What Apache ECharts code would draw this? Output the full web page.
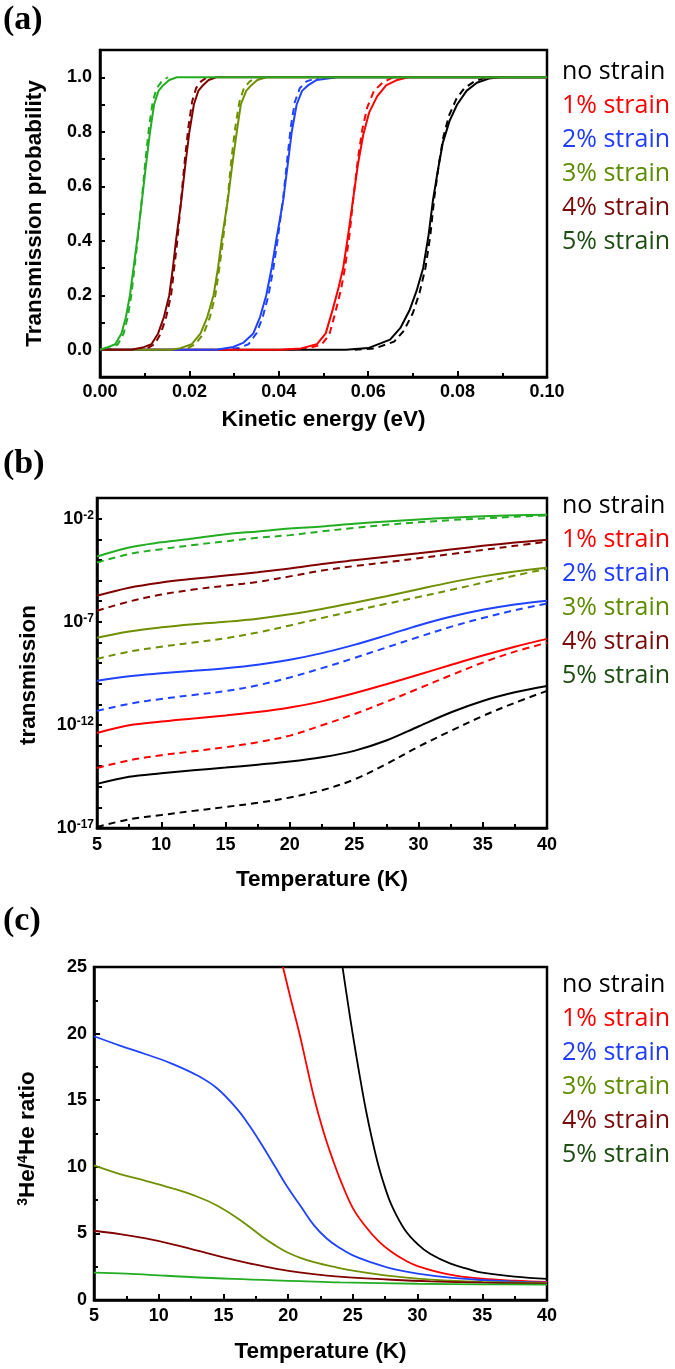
<!DOCTYPE html>
<html lang="en">
<head>
  <meta charset="UTF-8">
  <title>Transmission and 3He/4He ratio under strain</title>
  <script src="https://cdn.jsdelivr.net/npm/echarts@6.0.0/dist/echarts.min.js"></script>
  <style>
    html, body { margin: 0; padding: 0; background: #fff; }
    #main { width: 675px; height: 1369px; }
  </style>
</head>
<body>
  <div id="main"></div>

  <script>
    // legend labels and colours (same for all three panels)
    const strainNames = ['no strain', '1% strain', '2% strain', '3% strain', '4% strain', '5% strain'];
    const legendColors = ['#000000', '#ff0000', '#1f3cff', '#5e8c00', '#7a0a0a', '#1d4d12'];
    const lineColors = ['#000000', '#ff0000', '#2043ff', '#6f9000', '#800000', '#22ad22'];

    // (a) transmission probability vs kinetic energy (eV), [energy, T]
    const aNoSolid = [[0,0],[0.055,0],[0.06,0.006],[0.0649,0.037],[0.0672,0.08],[0.0693,0.147],[0.0709,0.22],[0.0723,0.3],[0.0735,0.42],[0.0745,0.55],[0.0756,0.66],[0.0767,0.76],[0.0782,0.84],[0.0799,0.9],[0.082,0.95],[0.0843,0.98],[0.087,0.995],[0.0895,1],[0.1,1]];
    const aNoDash = [[0.057,0],[0.0615,0.005],[0.0658,0.03],[0.068,0.07],[0.07,0.135],[0.0715,0.21],[0.0728,0.3],[0.0739,0.42],[0.0748,0.56],[0.0758,0.68],[0.0768,0.78],[0.0781,0.86],[0.0797,0.92],[0.0815,0.96],[0.0838,0.985],[0.0865,1]];
    const a1Solid = [[0,0],[0.04,0],[0.045,0.005],[0.0485,0.02],[0.0505,0.06],[0.0521,0.15],[0.0534,0.23],[0.0544,0.3],[0.0555,0.42],[0.0566,0.55],[0.0577,0.68],[0.0589,0.79],[0.0602,0.87],[0.062,0.93],[0.064,0.97],[0.0665,0.99],[0.069,1],[0.1,1]];
    const a1Dash = [[0.042,0],[0.0465,0.005],[0.0495,0.018],[0.0513,0.055],[0.0527,0.14],[0.0539,0.22],[0.0548,0.3],[0.0558,0.42],[0.0567,0.56],[0.0577,0.7],[0.0587,0.81],[0.0598,0.89],[0.0613,0.95],[0.0632,0.98],[0.0655,1]];
    const a2Solid = [[0,0],[0.026,0],[0.0298,0.01],[0.032,0.025],[0.0343,0.06],[0.0358,0.12],[0.0372,0.2],[0.0384,0.3],[0.0394,0.4],[0.041,0.55],[0.042,0.68],[0.0429,0.8],[0.044,0.9],[0.0452,0.95],[0.0465,0.97],[0.0485,0.99],[0.053,1],[0.1,1]];
    const a2Dash = [[0.027,0],[0.031,0.006],[0.0332,0.02],[0.035,0.06],[0.0364,0.12],[0.0377,0.2],[0.0388,0.3],[0.0397,0.4],[0.041,0.56],[0.0419,0.7],[0.0427,0.82],[0.0436,0.91],[0.0447,0.96],[0.0462,0.985],[0.049,1]];
    const a3Solid = [[0,0],[0.016,0],[0.018,0.006],[0.0205,0.02],[0.0225,0.06],[0.024,0.12],[0.0254,0.2],[0.0264,0.3],[0.0272,0.4],[0.0286,0.55],[0.0296,0.68],[0.0306,0.8],[0.0315,0.9],[0.0327,0.95],[0.0338,0.97],[0.0352,0.99],[0.0372,1],[0.1,1]];
    const a3Dash = [[0.017,0],[0.0195,0.005],[0.0213,0.02],[0.0232,0.06],[0.0246,0.12],[0.0258,0.2],[0.0267,0.3],[0.0275,0.4],[0.0286,0.56],[0.0294,0.7],[0.0303,0.82],[0.0312,0.91],[0.0322,0.96],[0.0335,0.985],[0.0352,1]];
    const a4Solid = [[0,0],[0.007,0],[0.0095,0.008],[0.0115,0.02],[0.013,0.06],[0.0143,0.12],[0.0155,0.2],[0.0163,0.3],[0.017,0.4],[0.0182,0.55],[0.0191,0.68],[0.02,0.8],[0.021,0.9],[0.022,0.95],[0.023,0.97],[0.0243,0.99],[0.026,1],[0.1,1]];
    const a4Dash = [[0.008,0],[0.0105,0.005],[0.0122,0.02],[0.0136,0.06],[0.0148,0.12],[0.0159,0.2],[0.0166,0.3],[0.0173,0.4],[0.0182,0.56],[0.019,0.7],[0.0198,0.82],[0.0206,0.91],[0.0215,0.96],[0.0226,0.985],[0.024,1]];
    const a5Solid = [[0,0],[0.0015,0.008],[0.0034,0.02],[0.0048,0.06],[0.0058,0.12],[0.0067,0.2],[0.0075,0.3],[0.0083,0.4],[0.0094,0.55],[0.0103,0.68],[0.0112,0.8],[0.0121,0.9],[0.0131,0.95],[0.0141,0.97],[0.0155,0.99],[0.0172,1],[0.1,1]];
    const a5Dash = [[0.001,0],[0.0025,0.005],[0.004,0.02],[0.0053,0.06],[0.0062,0.12],[0.007,0.2],[0.0077,0.3],[0.0084,0.4],[0.0094,0.56],[0.0102,0.7],[0.011,0.82],[0.0118,0.91],[0.0127,0.96],[0.0138,0.985],[0.0152,1]];

    // (b) log10(transmission) vs temperature (K)
    const tempB = [5, 7.5, 10, 12.5, 15, 17.5, 20, 22.5, 25, 27.5, 30, 32.5, 35, 37.5, 40];
    const bNoSolid = [-14.86,-14.52,-14.35,-14.20,-14.07,-13.93,-13.78,-13.57,-13.26,-12.76,-12.08,-11.40,-10.84,-10.42,-10.11];
    const bNoDash  = [-16.95,-16.58,-16.37,-16.17,-15.98,-15.78,-15.52,-15.17,-14.65,-13.90,-13.06,-12.30,-11.57,-10.93,-10.35];
    const b1Solid  = [-12.39,-12.02,-11.84,-11.69,-11.54,-11.38,-11.16,-10.86,-10.47,-10.03,-9.57,-9.10,-8.64,-8.21,-7.83];
    const b1Dash   = [-14.09,-13.72,-13.47,-13.28,-13.08,-12.84,-12.52,-12.02,-11.48,-10.88,-10.24,-9.60,-8.98,-8.45,-8.02];
    const b2Solid  = [-9.86,-9.64,-9.50,-9.38,-9.25,-9.08,-8.84,-8.52,-8.12,-7.66,-7.18,-6.76,-6.42,-6.16,-5.98];
    const b2Dash   = [-11.32,-10.98,-10.74,-10.55,-10.36,-10.08,-9.70,-9.25,-8.76,-8.25,-7.74,-7.25,-6.82,-6.44,-6.12];
    const b3Solid  = [-7.78,-7.47,-7.27,-7.12,-7.00,-6.85,-6.64,-6.38,-6.08,-5.76,-5.42,-5.09,-4.80,-4.56,-4.38];
    const b3Dash   = [-8.80,-8.45,-8.21,-8.01,-7.80,-7.52,-7.18,-6.82,-6.47,-6.13,-5.80,-5.46,-5.11,-4.76,-4.43];
    const b4Solid  = [-5.74,-5.35,-5.10,-4.92,-4.76,-4.60,-4.42,-4.20,-4.02,-3.85,-3.68,-3.50,-3.32,-3.16,-3.02];
    const b4Dash   = [-6.47,-6.02,-5.68,-5.44,-5.25,-5.07,-4.80,-4.52,-4.30,-4.12,-3.92,-3.72,-3.52,-3.32,-3.12];
    const b5Solid  = [-3.84,-3.40,-3.15,-2.96,-2.76,-2.62,-2.48,-2.38,-2.25,-2.14,-2.04,-1.96,-1.89,-1.84,-1.81];
    const b5Dash   = [-4.13,-3.72,-3.48,-3.28,-3.10,-2.93,-2.80,-2.62,-2.45,-2.30,-2.18,-2.07,-1.99,-1.91,-1.85];
    const bLogTicks = [-17, -12, -7, -2];

    // (c) 3He/4He ratio vs temperature (K), [T, ratio]
    const cNo = [[24.2,25],[24.6,22.4],[25,19.9],[25.5,17.0],[26,14.3],[26.5,12.0],[27,10.0],[27.5,8.4],[28,7.1],[29,5.3],[30,4.2],[31,3.45],[32.5,2.75],[34,2.3],[35,2.05],[37.5,1.75],[40,1.58]];
    const c1 = [[19.6,25],[20.2,22.6],[20.9,19.9],[21.5,17.3],[22,15.2],[22.5,13.4],[23,11.8],[23.5,10.4],[24,9.1],[25,6.9],[26,5.5],[27,4.4],[28,3.6],[29,3.0],[30,2.55],[32.5,1.9],[35,1.6],[37.5,1.45],[40,1.35]];
    const c2 = [[5,19.8],[7,19.1],[9,18.45],[11,17.75],[13,16.85],[14.5,15.9],[16,14.4],[17,13.1],[18,11.6],[19,10.0],[20,8.4],[21,7.0],[22,5.6],[23,4.6],[24,3.9],[25,3.35],[26.5,2.8],[28,2.35],[30,1.98],[32.5,1.68],[35,1.5],[37.5,1.38],[40,1.3]];
    const c3 = [[5,10.1],[7,9.45],[9,8.95],[11,8.4],[13,7.75],[14.5,7.1],[16,6.2],[17,5.5],[18,4.75],[19,4.1],[20,3.55],[21,3.15],[22,2.85],[23.5,2.5],[25,2.2],[27.5,1.85],[30,1.6],[32.5,1.45],[35,1.36],[40,1.28]];
    const c4 = [[5,5.2],[7,4.95],[9,4.62],[11,4.2],[13,3.7],[15,3.2],[17,2.75],[19,2.35],[21,2.05],[23,1.83],[25,1.68],[28,1.52],[31,1.4],[35,1.3],[40,1.22]];
    const c5 = [[5,2.05],[7.5,1.98],[10.6,1.82],[15.75,1.58],[20.9,1.42],[24,1.32],[30,1.22],[35,1.18],[40,1.15]];

    const FONT = 'Liberation Sans, Arial, sans-serif';

    let chart = echarts.init(document.getElementById('main'), null, { renderer: 'canvas' });

    function lineSeries(idx, data, axis, dashed, width, smooth) {
      return {
        name: strainNames[idx],
        type: 'line',
        xAxisIndex: axis,
        yAxisIndex: axis,
        data: data,
        symbol: 'none',
        smooth: smooth,
        silent: true,
        lineStyle: { color: lineColors[idx], width: width, type: dashed ? [7, 5] : 'solid' },
        itemStyle: { color: lineColors[idx] }
      };
    }

    function pairs(xs, ys) {
      return xs.map((x, i) => [x, ys[i]]);
    }

    function legendAt(top) {
      return {
        orient: 'vertical', left: 557, top: top, padding: 0, itemGap: 0,
        itemWidth: 0, itemHeight: 0, icon: 'rect', selectedMode: false,
        textStyle: { fontFamily: 'Open Sans', fontSize: 25, lineHeight: 34 },
        data: strainNames.map((n, i) => ({ name: n, textStyle: { color: legendColors[i] } }))
      };
    }

    const tickStyle = { color: '#000', width: 2 };
    const labelBase = { color: '#000', fontFamily: FONT, fontWeight: 'bold', fontSize: 18 };
    const nameBase = { color: '#000', fontFamily: FONT, fontWeight: 'bold', fontSize: 22.5 };
    const panelTitle = { fontFamily: 'Liberation Serif', fontWeight: 'bold', fontSize: 34, color: '#000' };

    function axisCommon(extra) {
      return Object.assign({
        type: 'value',
        nameLocation: 'middle',
        axisLine: { show: true, onZero: false, lineStyle: { color: '#000', width: 2.5 } },
        axisTick: { show: true, inside: true, length: 6, lineStyle: tickStyle },
        minorTick: { show: false },
        splitLine: { show: false },
        nameTextStyle: nameBase
      }, extra);
    }

    const gridBox = { show: true, borderColor: '#000', borderWidth: 2.5, backgroundColor: 'transparent', containLabel: false, outerBoundsMode: 'none' };

    // series, back to front
    let series = [];
    const aDash = [aNoDash, a1Dash, a2Dash, a3Dash, a4Dash, a5Dash];
    const aSolid = [aNoSolid, a1Solid, a2Solid, a3Solid, a4Solid, a5Solid];
    aDash.forEach((d, i) => series.push(lineSeries(i, d, 0, true, 2, false)));
    aSolid.forEach((d, i) => series.push(lineSeries(i, d, 0, false, 2, false)));

    const bDash = [bNoDash, b1Dash, b2Dash, b3Dash, b4Dash, b5Dash];
    const bSolid = [bNoSolid, b1Solid, b2Solid, b3Solid, b4Solid, b5Solid];
    bDash.forEach((d, i) => series.push(lineSeries(i, pairs(tempB, d), 1, true, 2, 0.35)));
    bSolid.forEach((d, i) => series.push(lineSeries(i, pairs(tempB, d), 1, false, 2, 0.35)));

    [cNo, c1, c2, c3, c4, c5].forEach((d, i) => series.push(lineSeries(i, d, 2, false, 1.8, 0.4)));

    let option = {
      animation: false,
      backgroundColor: '#fff',
      title: [
        { text: '(a)', left: 3, top: 3, padding: 0, textStyle: panelTitle },
        { text: '(b)', left: 3, top: 447, padding: 0, textStyle: panelTitle },
        { text: '(c)', left: 3, top: 904, padding: 0, textStyle: panelTitle }
      ],
      legend: [legendAt(55), legendAt(489), legendAt(968)],
      grid: [
        Object.assign({ left: 100, top: 50, width: 447, height: 327 }, gridBox),
        Object.assign({ left: 97, top: 498, width: 450, height: 330 }, gridBox),
        Object.assign({ left: 94, top: 967, width: 453, height: 333 }, gridBox)
      ],
      xAxis: [
        axisCommon({
          gridIndex: 0, min: 0, max: 0.1, interval: 0.02,
          name: 'Kinetic energy (eV)', nameGap: 31,
          minorTick: { show: true, splitNumber: 2, length: 4, lineStyle: tickStyle },
          axisLabel: Object.assign({ margin: 6, formatter: v => v.toFixed(2) }, labelBase)
        }),
        axisCommon({
          gridIndex: 1, min: 5, max: 40, interval: 5,
          name: 'Temperature (K)', nameGap: 40,
          minorTick: { show: true, splitNumber: 2, length: 4, lineStyle: tickStyle },
          axisLabel: Object.assign({ margin: 8 }, labelBase)
        }),
        axisCommon({
          gridIndex: 2, min: 5, max: 40, interval: 5,
          name: 'Temperature (K)', nameGap: 40,
          minorTick: { show: true, splitNumber: 2, length: 4, lineStyle: tickStyle },
          axisLabel: Object.assign({ margin: 7 }, labelBase)
        })
      ],
      yAxis: [
        axisCommon({
          gridIndex: 0, min: -0.1, max: 1.1, interval: 0.1,
          name: 'Transmission probability', nameGap: 54,
          axisTick: { show: true, inside: true, length: 5, lineStyle: tickStyle },
          axisLabel: Object.assign({
            margin: 8,
            formatter: v => {
              const k = Math.round(v * 10);
              return (k >= 0 && k <= 10 && k % 2 === 0) ? (k / 10).toFixed(1) : '';
            }
          }, labelBase)
        }),
        axisCommon({
          gridIndex: 1, min: -17, max: -1, interval: 1,
          name: 'transmission', nameGap: 57,
          nameTextStyle: Object.assign({ padding: [0, 24, 0, 0] }, nameBase),
          axisTick: { show: true, inside: true, length: 5, lineStyle: tickStyle },
          axisLabel: {
            margin: 3,
            formatter: v => {
              const e = Math.round(v);
              return bLogTicks.includes(e) ? '{b|10}{s|' + e + '}' : '';
            },
            rich: {
              b: Object.assign({}, labelBase),
              s: { color: '#000', fontFamily: FONT, fontWeight: 'bold', fontSize: 12, verticalAlign: 'top' }
            }
          }
        }),
        axisCommon({
          gridIndex: 2, min: 0, max: 25, interval: 5,
          name: '{s|3}He/{s|4}He ratio', nameGap: 55,
          minorTick: { show: true, splitNumber: 2, length: 4, lineStyle: tickStyle },
          nameTextStyle: Object.assign({
            padding: [0, 10, 0, 0],
            rich: {
              s: { color: '#000', fontFamily: FONT, fontWeight: 'bold', fontSize: 14, verticalAlign: 'top' }
            }
          }, nameBase),
          axisLabel: Object.assign({ margin: 7 }, labelBase)
        })
      ],
      series: series
    };

    chart.setOption(option);

    window.addEventListener('resize', function () {
      chart.resize();
    });
  </script>
</body>
</html>
